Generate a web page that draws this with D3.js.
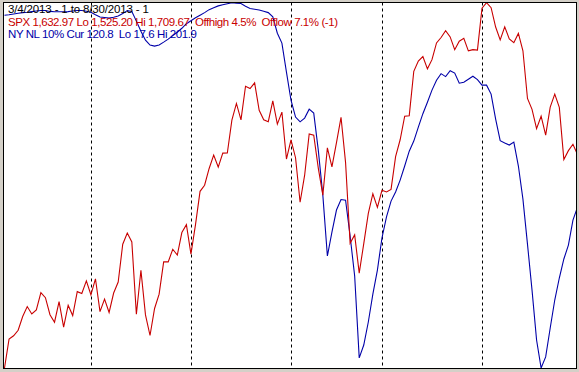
<!DOCTYPE html>
<html>
<head>
<meta charset="utf-8">
<script src="https://cdn.jsdelivr.net/npm/d3@7"></script>
<style>
  html, body { margin: 0; padding: 0; background: #d4d0c8; }
  svg { display: block; }
  text.title { white-space: pre; }
</style>
</head>
<body>
<svg id="chart" width="579" height="372"></svg>
<script>
// ---- data (3/4/2013 .. 8/30/2013, trading days) ----
const spx = [
  1525.20,1539.79,1541.46,1544.26,1551.18,1556.22,1552.48,1554.52,1563.23,1560.70,
  1552.10,1548.34,1558.71,1545.80,1556.89,1551.69,1563.77,1562.85,1569.19,
  1562.17,1570.25,1553.69,1559.98,1553.28,1563.07,1568.61,1587.73,1593.37,1588.85,
  1552.36,1574.57,1552.01,1541.61,1555.25,1562.50,1578.78,1578.79,1585.16,1582.24,
  1593.61,1597.57,
  1582.70,1597.59,1614.42,1617.50,1625.96,1632.69,1626.67,1633.70,1633.77,1650.34,
  1658.78,1650.47,1667.47,1666.29,1669.16,1655.35,1650.51,1649.60,1660.06,1648.36,
  1654.41,1630.74,
  1640.42,1631.38,1608.90,1622.56,1643.38,1642.81,1626.13,1612.52,1636.36,1626.73,
  1639.04,1651.81,1628.93,1588.19,1592.43,1573.09,1588.03,1603.26,1613.20,1606.28,
  1614.96,1614.08,1615.41,1631.89,1640.46,1652.32,1652.62,1675.02,1680.19,1682.50,
  1676.26,1680.91,1689.37,1692.09,1695.53,1692.39,1685.94,1690.25,1691.65,1685.33,
  1685.96,1685.73,
  1706.87,1709.67,1707.14,1697.37,1690.91,1697.48,1691.42,1689.47,1694.16,1685.39,
  1661.32,1655.83,1646.06,1652.35,1642.80,1656.96,1663.50,1656.78,1630.48,1634.96,
  1638.17,1632.97
];
const nyNL = [
  23.9,23.7,23.3,22.9,22.6,22.4,22.1,21.8,21.5,21.5,
  22.0,22.2,22.2,22.2,22.1,21.8,21.5,21.5,21.9,22.4,
  23.7,24.8,25.1,25.4,24.9,24.3,23.1,21.6,22.0,26.9,
  32.0,36.5,39.0,39.5,38.9,37.5,36.0,34.2,32.5,30.5,
  28.2,26.7,25.2,23.9,22.6,21.1,20.1,19.2,18.6,18.1,
  17.6,17.9,18.0,19.4,20.5,20.9,21.3,21.9,22.6,24.7,
  33.0,38.0,52.6,66.8,75.3,77.7,75.8,71.3,73.3,92.0,
  114.7,145.4,133.3,122.2,116.9,117.2,135.3,155.5,196.8,190.3,
  178.7,164.6,152.5,136.3,125.7,117.7,113.1,107.1,100.0,92.5,
  87.4,80.4,73.6,67.8,61.7,56.7,53.4,54.9,51.9,53.1,
  58.2,57.7,56.2,54.7,56.4,59.2,59.2,63.7,76.3,87.2,
  88.4,89.4,87.9,100.0,116.7,139.4,162.6,187.8,201.9,196.3,
  181.7,167.6,156.5,146.9,139.9,127.3,120.8
];
const monthStarts = [19, 41, 63, 83, 105]; // first trading day of Apr, May, Jun, Jul, Aug
const titleLines = [
  "3/4/2013 - 1 to 8/30/2013 - 1",
  "SPX 1,632.97 Lo 1,525.20 Hi 1,709.67  Offhigh 4.5%  Offlow 7.1% (-1)",
  "NY NL 10% Cur 120.8  Lo 17.6 Hi 201.9"
];

// ---- layout ----
const frame = { x0: 3.5, y0: 2.5, x1: 576.5, y1: 368.5 };
const RED = "#c80000", BLUE = "#0000a8";

const svg = d3.select("#chart");

svg.append("rect")
  .attr("x", frame.x0).attr("y", frame.y0)
  .attr("width", frame.x1 - frame.x0).attr("height", frame.y1 - frame.y0)
  .attr("fill", "#ffffff");

const x = d3.scaleLinear().domain([0, spx.length - 1]).range([4.5, 577.5]);
const ySpx = d3.scaleLinear().domain([d3.min(spx), d3.max(spx)]).range([368, 2.7]);
const yNL = d3.scaleLinear().domain([d3.min(nyNL), d3.max(nyNL)]).range([2.7, 368]);

svg.append("clipPath").attr("id", "clip")
  .append("rect")
  .attr("x", frame.x0).attr("y", frame.y0)
  .attr("width", frame.x1 - frame.x0).attr("height", frame.y1 - frame.y0);

const g = svg.append("g").attr("clip-path", "url(#clip)");

// month dividers
g.selectAll("line.month").data(monthStarts).enter().append("line")
  .attr("class", "month")
  .attr("x1", d => Math.round(x(d)) + 0.5).attr("x2", d => Math.round(x(d)) + 0.5)
  .attr("y1", frame.y0).attr("y2", frame.y1)
  .attr("stroke", "#000").attr("stroke-width", 1)
  .attr("stroke-dasharray", "3,3");

// lines
const lineSpx = d3.line().x((d, i) => x(i)).y(d => ySpx(d));
const lineNL = d3.line().x((d, i) => x(i)).y(d => yNL(d));

g.append("path").datum(nyNL)
  .attr("d", lineNL).attr("fill", "none")
  .attr("stroke", BLUE).attr("stroke-width", 1.1);

g.append("path").datum(spx)
  .attr("d", lineSpx).attr("fill", "none")
  .attr("stroke", RED).attr("stroke-width", 1.1);

// frame border
svg.append("rect")
  .attr("x", frame.x0).attr("y", frame.y0)
  .attr("width", frame.x1 - frame.x0).attr("height", frame.y1 - frame.y0)
  .attr("fill", "none").attr("stroke", "#000").attr("stroke-width", 1);

// title texts
const textColors = ["#000000", RED, BLUE];
const textWidths = [141, 330, 189];
svg.selectAll("text.title").data(titleLines).enter().append("text")
  .attr("class", "title")
  .attr("xml:space", "preserve")
  .attr("x", 8)
  .attr("y", (d, i) => 12.8 + i * 12.8)
  .attr("fill", (d, i) => textColors[i])
  .attr("font-family", "Liberation Sans, Arial, sans-serif")
  .attr("font-size", "11.5px")
  .attr("textLength", (d, i) => textWidths[i])
  .attr("lengthAdjust", "spacing")
  .text(d => d);
</script>
</body>
</html>
